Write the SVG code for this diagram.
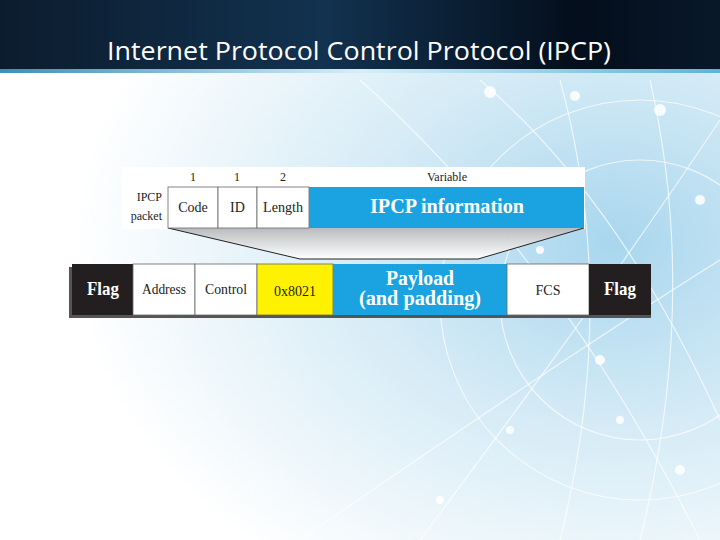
<svg xmlns="http://www.w3.org/2000/svg" width="720" height="540" viewBox="0 0 720 540">
<defs>
<linearGradient id="bar" x1="0" y1="0" x2="1" y2="0">
<stop offset="0" stop-color="#0c1c2e"/><stop offset="0.45" stop-color="#12324f"/><stop offset="0.8" stop-color="#040e1c"/><stop offset="1" stop-color="#08182a"/>
</linearGradient>
<linearGradient id="barline" x1="0" y1="0" x2="1" y2="0">
<stop offset="0" stop-color="#3d8fb8"/><stop offset="0.5" stop-color="#d6eef8"/><stop offset="1" stop-color="#5fb3d8"/>
</linearGradient>
<radialGradient id="bg" cx="0.85" cy="0.45" r="0.75">
<stop offset="0" stop-color="#a9d6ee"/><stop offset="0.45" stop-color="#d5ebf6"/><stop offset="1" stop-color="#ffffff"/>
</radialGradient>
<linearGradient id="trap" x1="0" y1="0" x2="0" y2="1">
<stop offset="0" stop-color="#b9bcbf"/><stop offset="1" stop-color="#ffffff"/>
</linearGradient>
<style>
.t{font-family:"Liberation Serif",serif;fill:#222}
.b{font-family:"Liberation Serif",serif;font-weight:bold;fill:#fff}
.cell{stroke:#666;stroke-width:0.8}
.net{fill:none;stroke:#ffffff;stroke-width:1.2;opacity:0.7}
.dot{fill:#ffffff;opacity:0.85}
</style>
</defs>
<rect width="720" height="540" fill="url(#bg)"/>
<g id="background-network">
<path class="net" d="M420 540 Q600 300 720 120"/>
<path class="net" d="M300 540 Q560 360 720 260"/>
<path class="net" d="M480 80 Q620 200 720 420"/>
<path class="net" d="M360 80 Q560 260 700 540"/>
<path class="net" d="M560 540 Q620 300 560 80"/>
<path class="net" d="M640 540 Q700 300 650 80"/>
<circle class="net" cx="640" cy="300" r="200"/>
<circle class="net" cx="640" cy="300" r="140"/>
<circle class="dot" cx="490" cy="92" r="6"/><circle class="dot" cx="575" cy="96" r="5"/>
<circle class="dot" cx="660" cy="110" r="6"/><circle class="dot" cx="700" cy="200" r="5"/>
<circle class="dot" cx="600" cy="360" r="5"/><circle class="dot" cx="510" cy="430" r="4"/>
<circle class="dot" cx="680" cy="470" r="5"/><circle class="dot" cx="440" cy="500" r="4"/>
<circle class="dot" cx="620" cy="420" r="4"/><circle class="dot" cx="540" cy="250" r="4"/>
</g>
<g id="title">
<rect x="0" y="0" width="720" height="71" fill="url(#bar)"/>
<rect x="0" y="69" width="720" height="4" fill="url(#barline)"/>
<text x="359" y="60" text-anchor="middle" font-family="'Open Sans','Liberation Sans',sans-serif" font-size="25" fill="#fff" textLength="504" lengthAdjust="spacingAndGlyphs">Internet Protocol Control Protocol (IPCP)</text>
</g>
<g id="ipcp-packet">
<rect x="122" y="167" width="463" height="62" fill="#fff"/>
<path d="M168 228 L584 228 L478 259 L300 259 Z" fill="url(#trap)"/>
<path d="M168 228 L300 259 L478 259 L584 228" fill="none" stroke="#222" stroke-width="1"/>
<text class="t" x="193" y="181" text-anchor="middle" font-size="12">1</text>
<text class="t" x="237" y="181" text-anchor="middle" font-size="12">1</text>
<text class="t" x="283" y="181" text-anchor="middle" font-size="12">2</text>
<text class="t" x="447" y="181" text-anchor="middle" font-size="12">Variable</text>
<text class="t" x="162" y="201" text-anchor="end" font-size="12">IPCP</text>
<text class="t" x="162" y="220" text-anchor="end" font-size="12">packet</text>
<g id="code"><rect class="cell" x="168" y="187" width="50" height="41" fill="#fff"/><text class="t" x="193" y="212" text-anchor="middle" font-size="14">Code</text></g>
<g id="id"><rect class="cell" x="218" y="187" width="39" height="41" fill="#fff"/><text class="t" x="237.5" y="212" text-anchor="middle" font-size="14">ID</text></g>
<g id="length"><rect class="cell" x="257" y="187" width="52" height="41" fill="#fff"/><text class="t" x="283" y="212" text-anchor="middle" font-size="14" textLength="40" lengthAdjust="spacingAndGlyphs">Length</text></g>
<g id="ipcp-info"><rect x="309" y="187" width="275" height="41" fill="#1aa3e0"/><text class="b" x="447" y="213" text-anchor="middle" font-size="21" textLength="154" lengthAdjust="spacingAndGlyphs">IPCP information</text></g>
</g>
<g id="ppp-frame">
<rect x="69" y="267" width="582" height="51" fill="#555"/>
<g id="flag1"><rect x="72" y="264" width="61" height="51" fill="#231f20"/><text class="b" x="103" y="295" text-anchor="middle" font-size="19" textLength="32" lengthAdjust="spacingAndGlyphs">Flag</text></g>
<g id="address"><rect class="cell" x="133" y="264" width="62" height="51" fill="#fff"/><text class="t" x="164" y="294" text-anchor="middle" font-size="14" textLength="44" lengthAdjust="spacingAndGlyphs">Address</text></g>
<g id="control"><rect class="cell" x="195" y="264" width="62" height="51" fill="#fff"/><text class="t" x="226" y="294" text-anchor="middle" font-size="14" textLength="42" lengthAdjust="spacingAndGlyphs">Control</text></g>
<g id="protocol"><rect class="cell" x="257" y="264" width="76" height="51" fill="#fff200"/><text class="t" x="295" y="296" text-anchor="middle" font-size="14" fill="#333" textLength="42" lengthAdjust="spacingAndGlyphs">0x8021</text></g>
<g id="payload"><rect x="333" y="264" width="174" height="51" fill="#1aa3e0"/><text class="b" x="420" y="285" text-anchor="middle" font-size="20" textLength="68" lengthAdjust="spacingAndGlyphs">Payload</text><text class="b" x="420" y="305" text-anchor="middle" font-size="20" textLength="122" lengthAdjust="spacingAndGlyphs">(and padding)</text></g>
<g id="fcs"><rect class="cell" x="507" y="264" width="82" height="51" fill="#fff"/><text class="t" x="548" y="295" text-anchor="middle" font-size="14">FCS</text></g>
<g id="flag2"><rect x="589" y="264" width="62" height="51" fill="#231f20"/><text class="b" x="620" y="295" text-anchor="middle" font-size="19" textLength="32" lengthAdjust="spacingAndGlyphs">Flag</text></g>
</g>
</svg>
